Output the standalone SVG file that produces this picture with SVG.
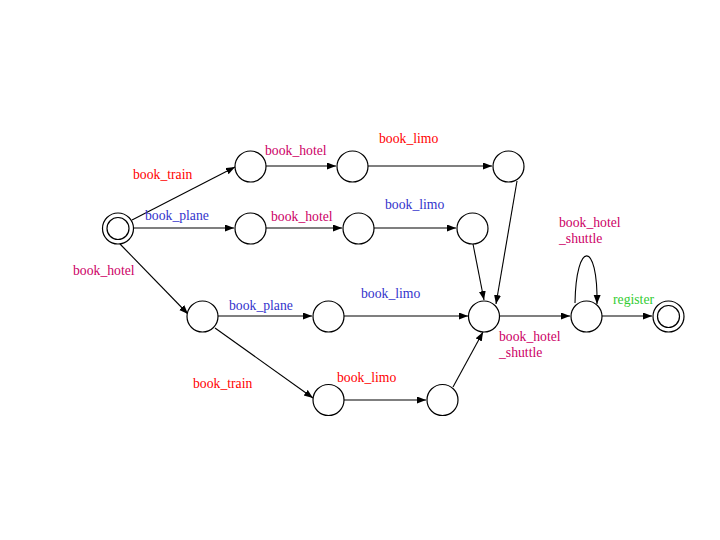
<svg xmlns="http://www.w3.org/2000/svg" width="720" height="540" viewBox="0 0 720 540">
<style>
.n{fill:#fff;stroke:#000;stroke-width:1.2}
.e{fill:none;stroke:#000;stroke-width:1.1;marker-end:url(#ah)}
text{font-family:"Liberation Serif","Times New Roman",serif;font-size:13.7px}
.r{fill:#ff0000}.m{fill:#cc0066}.b{fill:#3333cc}.g{fill:#33cc33}
</style>
<defs>
<marker id="ah" markerUnits="userSpaceOnUse" markerWidth="10" markerHeight="8" refX="9" refY="3.5" orient="auto">
<path d="M0,0 L9,3.5 L0,7 z" fill="#000"/>
</marker>
</defs>
<rect width="720" height="540" fill="#fff"/>
<g id="connectors">
<line class="e" x1="132" y1="220" x2="235" y2="167"/>
<line class="e" x1="134" y1="228" x2="234" y2="228"/>
<line class="e" x1="120" y1="244" x2="188" y2="314"/>
<line class="e" x1="266" y1="166" x2="336" y2="166"/>
<line class="e" x1="368" y1="166" x2="492" y2="166"/>
<line class="e" x1="266" y1="228" x2="342" y2="228"/>
<line class="e" x1="374" y1="228" x2="456" y2="228"/>
<line class="e" x1="517" y1="181" x2="496" y2="304"/>
<line class="e" x1="473" y1="244" x2="484" y2="300"/>
<line class="e" x1="218" y1="316" x2="312" y2="316"/>
<line class="e" x1="344" y1="316" x2="468" y2="316"/>
<line class="e" x1="215" y1="328" x2="313" y2="398"/>
<line class="e" x1="344" y1="400" x2="426" y2="400"/>
<line class="e" x1="453" y1="387" x2="483" y2="332"/>
<line class="e" x1="500" y1="316" x2="570" y2="316"/>
<path class="e" d="M575,303 C576,240 598,240 597,304"/>
<line class="e" x1="602" y1="316" x2="652" y2="316"/>
</g>
<g id="labels">
<text class="r" x="133" y="179">book_train</text>
<text class="m" x="265" y="155">book_hotel</text>
<text class="r" x="379" y="143">book_limo</text>
<text class="b" x="145" y="220">book_plane</text>
<text class="m" x="271" y="221">book_hotel</text>
<text class="b" x="385" y="209">book_limo</text>
<text class="m" x="73" y="275">book_hotel</text>
<text class="b" x="229" y="310">book_plane</text>
<text class="b" x="361" y="298">book_limo</text>
<text class="r" x="193" y="388">book_train</text>
<text class="r" x="337" y="382">book_limo</text>
<text class="m" x="499" y="341">book_hotel</text>
<text class="m" x="499" y="357">_shuttle</text>
<text class="m" x="559" y="227">book_hotel</text>
<text class="m" x="559" y="243">_shuttle</text>
<text class="g" x="613" y="304">register</text>
</g>
<g id="s0"><circle class="n" cx="118" cy="228.5" r="15.5"/><circle class="n" cx="118" cy="228.5" r="11"/></g>
<g id="s1"><circle class="n" cx="250.5" cy="166.5" r="15.5"/></g>
<g id="s2"><circle class="n" cx="352.5" cy="166.5" r="15.5"/></g>
<g id="s3"><circle class="n" cx="508.5" cy="166.5" r="15.5"/></g>
<g id="s4"><circle class="n" cx="250.5" cy="228.5" r="15.5"/></g>
<g id="s5"><circle class="n" cx="358.5" cy="228.5" r="15.5"/></g>
<g id="s6"><circle class="n" cx="472.5" cy="228.5" r="15.5"/></g>
<g id="s7"><circle class="n" cx="202.5" cy="316.5" r="15.5"/></g>
<g id="s8"><circle class="n" cx="328.5" cy="316.5" r="15.5"/></g>
<g id="s9"><circle class="n" cx="484" cy="316.5" r="15.5"/></g>
<g id="s10"><circle class="n" cx="586.5" cy="316.5" r="15.5"/></g>
<g id="s11"><circle class="n" cx="668.5" cy="316.5" r="15.5"/><circle class="n" cx="668.5" cy="316.5" r="11"/></g>
<g id="s12"><circle class="n" cx="328.5" cy="400" r="15.5"/></g>
<g id="s13"><circle class="n" cx="442.5" cy="400" r="15.5"/></g>
</svg>
